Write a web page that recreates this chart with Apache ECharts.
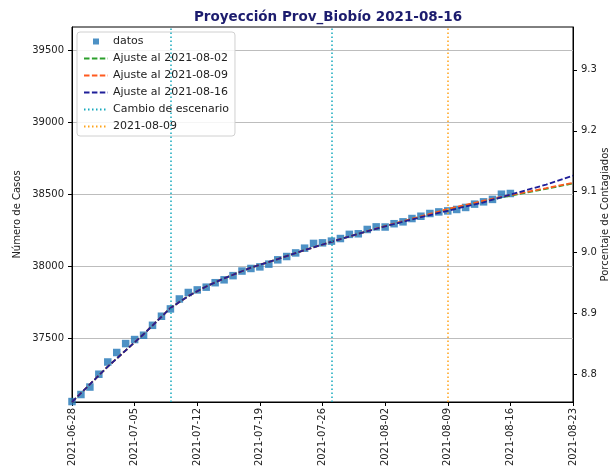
<!DOCTYPE html>
<html>
<head>
<meta charset="utf-8">
<script src="https://cdn.jsdelivr.net/npm/echarts@6/dist/echarts.min.js"></script>
<style>
html, body { margin: 0; padding: 0; background: #fff; }
#chart { width: 615px; height: 469px; }
</style>
</head>
<body>
<div id="chart"></div>
<script>
// datos diarios
var fechas = [
    '2021-06-28', '2021-06-29', '2021-06-30', '2021-07-01', '2021-07-02', '2021-07-03', '2021-07-04',
    '2021-07-05', '2021-07-06', '2021-07-07', '2021-07-08', '2021-07-09', '2021-07-10', '2021-07-11',
    '2021-07-12', '2021-07-13', '2021-07-14', '2021-07-15', '2021-07-16', '2021-07-17', '2021-07-18',
    '2021-07-19', '2021-07-20', '2021-07-21', '2021-07-22', '2021-07-23', '2021-07-24', '2021-07-25',
    '2021-07-26', '2021-07-27', '2021-07-28', '2021-07-29', '2021-07-30', '2021-07-31', '2021-08-01',
    '2021-08-02', '2021-08-03', '2021-08-04', '2021-08-05', '2021-08-06', '2021-08-07', '2021-08-08',
    '2021-08-09', '2021-08-10', '2021-08-11', '2021-08-12', '2021-08-13', '2021-08-14', '2021-08-15',
    '2021-08-16'
];
var casos = [
    37062, 37111, 37163, 37252, 37337, 37403, 37465,
    37493, 37523, 37592, 37655, 37706, 37775, 37820,
    37838, 37857, 37888, 37908, 37937, 37969, 37987,
    37998, 38017, 38047, 38070, 38095, 38128, 38161,
    38165, 38177, 38195, 38224, 38228, 38258, 38276,
    38275, 38298, 38311, 38334, 38350, 38369, 38380,
    38387, 38397, 38411, 38434, 38450, 38467, 38503,
    38508
];

// curvas de ajuste
var fechasAjuste = [
    '2021-06-28', '2021-07-02', '2021-07-06', '2021-07-09', '2021-07-11', '2021-07-13', '2021-07-15',
    '2021-07-18', '2021-07-21', '2021-07-24', '2021-07-27', '2021-07-30', '2021-08-02', '2021-08-06',
    '2021-08-09', '2021-08-13', '2021-08-16', '2021-08-20', '2021-08-23'
];
var ajuste0802 = [
    37059, 37305, 37530, 37712, 37795, 37862, 37918,
    37993, 38052, 38115, 38172, 38228, 38281, 38347,
    38396, 38454, 38493, 38540, 38578
];
var ajuste0809 = [
    37059, 37305, 37530, 37712, 37795, 37862, 37918,
    37993, 38052, 38115, 38172, 38228, 38282, 38349,
    38400, 38458, 38497, 38545, 38582
];
var ajuste0816 = [
    37059, 37305, 37530, 37712, 37795, 37862, 37918,
    37993, 38052, 38115, 38172, 38228, 38280, 38343,
    38388, 38447, 38500, 38570, 38632
];

var cambiosEscenario = ['2021-07-09', '2021-07-27'];
var fechaMarca = ['2021-08-09'];

var ticksFecha = ['2021-06-28', '2021-07-05', '2021-07-12', '2021-07-19', '2021-07-26',
    '2021-08-02', '2021-08-09', '2021-08-16', '2021-08-23'];
var ticksCasos = [37500, 38000, 38500, 39000, 39500];
var ticksPct = [8.8, 8.9, 9.0, 9.1, 9.2, 9.3];

var POBLACION = 423300;
var yMin = 37059, yMax = 39665;

var FONT = 'DejaVu Sans';

function ts(d) { return Date.parse(d); }
function pad(n) { return n < 10 ? '0' + n : '' + n; }
function fmtFecha(v) {
    var d = new Date(v);
    return d.getUTCFullYear() + '-' + pad(d.getUTCMonth() + 1) + '-' + pad(d.getUTCDate());
}
function pares(xs, ys) {
    return xs.map(function (d, i) { return [ts(d), ys[i]]; });
}

var dash = [5.5, 2.4];
var dot = [1.5, 2.5];
var cian = '#17a9bd';
var naranja = '#ffa31a';

// en la leyenda solo la linea, sin simbolo
function itemLinea(nombre) {
    return { name: nombre, itemStyle: { opacity: 0 } };
}

var myChart = echarts.init(document.getElementById('chart'));
myChart.setOption({
    animation: false,
    title: {
        text: 'Proyección Prov_Biobío 2021-08-16',
        left: 323,
        top: 5,
        textAlign: 'center',
        textStyle: { fontFamily: FONT, fontSize: 13.5, fontWeight: 'bold', color: '#1c1c6e' }
    },
    grid: {
        left: 72, right: 42, top: 27, bottom: 67,
        outerBoundsMode: 'none',
        containLabel: false,
        show: true, borderColor: '#000', borderWidth: 1, backgroundColor: 'transparent'
    },
    legend: {
        orient: 'vertical',
        left: 77,
        top: 32,
        padding: [4, 6, 4, 6],
        itemWidth: 24,
        itemHeight: 6,
        itemGap: 6,
        backgroundColor: 'rgba(255,255,255,0.85)',
        borderColor: '#d0d0d0',
        borderWidth: 1,
        borderRadius: 3,
        textStyle: { fontFamily: FONT, fontSize: 11, color: '#222' },
        data: [
            { name: 'datos', icon: 'path://M0,0M24,6M9,0L15,0L15,6L9,6Z' },
            itemLinea('Ajuste al 2021-08-02'),
            itemLinea('Ajuste al 2021-08-09'),
            itemLinea('Ajuste al 2021-08-16'),
            itemLinea('Cambio de escenario'),
            itemLinea('2021-08-09')
        ]
    },
    xAxis: {
        type: 'value',
        min: ts('2021-06-28'),
        max: ts('2021-08-23'),
        axisLine: { lineStyle: { color: '#000', width: 1 } },
        axisTick: { length: 4, lineStyle: { color: '#000' }, customValues: ticksFecha.map(ts) },
        axisLabel: {
            rotate: 90, margin: 6, fontFamily: FONT, fontSize: 10, color: '#222',
            formatter: fmtFecha, customValues: ticksFecha.map(ts)
        },
        splitLine: { show: false }
    },
    yAxis: [
        {
            type: 'value',
            position: 'left',
            min: yMin,
            max: yMax,
            name: 'Número de Casos',
            nameLocation: 'middle',
            nameRotate: 90,
            nameGap: 50,
            nameMoveOverlap: false,
            nameTextStyle: { fontFamily: FONT, fontSize: 10, color: '#222' },
            axisLine: { show: true, lineStyle: { color: '#000', width: 1 } },
            axisTick: { show: true, length: 4, lineStyle: { color: '#000' }, customValues: ticksCasos },
            axisLabel: {
                margin: 8, fontFamily: FONT, fontSize: 10, color: '#222', customValues: ticksCasos,
                formatter: function (v) { return String(v); }
            },
            splitLine: { show: true, lineStyle: { color: '#bdbdbd', width: 1 } }
        },
        {
            type: 'value',
            position: 'right',
            min: yMin / POBLACION * 100,
            max: yMax / POBLACION * 100,
            name: 'Porcentaje de Contagiados',
            nameLocation: 'middle',
            nameRotate: 90,
            nameGap: 27,
            nameMoveOverlap: false,
            nameTextStyle: { fontFamily: FONT, fontSize: 10, color: '#222' },
            axisLine: { show: true, lineStyle: { color: '#000', width: 1 } },
            axisTick: { show: true, length: 4, lineStyle: { color: '#000' }, customValues: ticksPct },
            axisLabel: {
                margin: 8, fontFamily: FONT, fontSize: 10, color: '#222', customValues: ticksPct,
                formatter: function (v) { return v.toFixed(1); }
            },
            splitLine: { show: false }
        }
    ],
    series: [
        {
            name: 'datos',
            type: 'scatter',
            symbol: 'rect',
            symbolSize: 7.5,
            itemStyle: { color: '#2176b6' },
            data: pares(fechas, casos)
        },
        {
            name: 'Ajuste al 2021-08-02',
            type: 'line',
            symbol: 'none',
            color: '#2ca02c',
            lineStyle: { color: '#2ca02c', width: 1.8, type: dash },
            data: pares(fechasAjuste, ajuste0802)
        },
        {
            name: 'Ajuste al 2021-08-09',
            type: 'line',
            symbol: 'none',
            color: '#ff5a1f',
            lineStyle: { color: '#ff5a1f', width: 1.8, type: dash },
            data: pares(fechasAjuste, ajuste0809)
        },
        {
            name: 'Ajuste al 2021-08-16',
            type: 'line',
            symbol: 'none',
            color: '#1f1f99',
            lineStyle: { color: '#1f1f99', width: 1.8, type: dash },
            data: pares(fechasAjuste, ajuste0816)
        },
        {
            name: 'Cambio de escenario',
            type: 'line',
            symbol: 'none',
            color: cian,
            lineStyle: { color: cian, width: 1.5, type: dot },
            data: [],
            markLine: {
                silent: true,
                symbol: 'none',
                label: { show: false },
                lineStyle: { color: cian, width: 1.5, type: dot },
                data: cambiosEscenario.map(function (d) { return { xAxis: ts(d) }; })
            }
        },
        {
            name: '2021-08-09',
            type: 'line',
            symbol: 'none',
            color: naranja,
            lineStyle: { color: naranja, width: 1.5, type: dot },
            data: [],
            markLine: {
                silent: true,
                symbol: 'none',
                label: { show: false },
                lineStyle: { color: naranja, width: 1.5, type: dot },
                data: fechaMarca.map(function (d) { return { xAxis: ts(d) }; })
            }
        }
    ]
});
</script>
</body>
</html>
